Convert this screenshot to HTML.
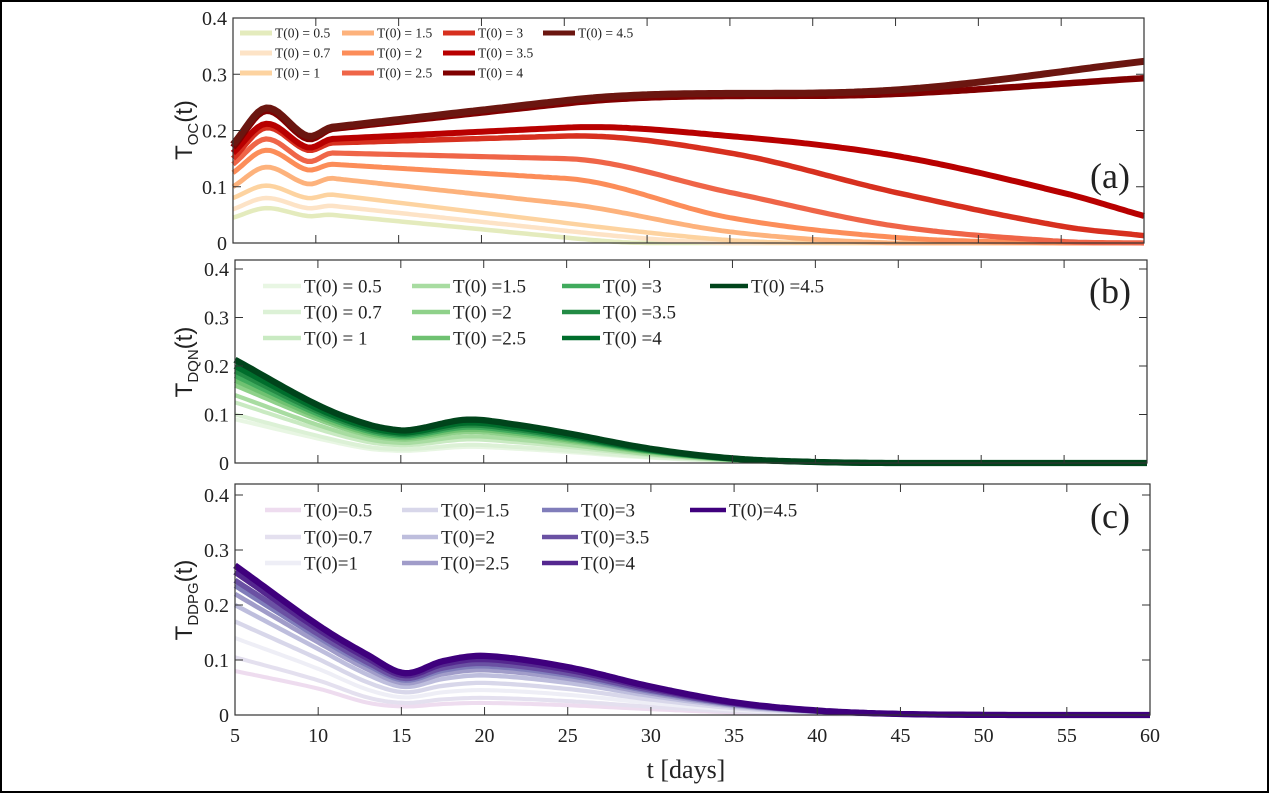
<!DOCTYPE html>
<html><head><meta charset="utf-8"><style>
html,body{margin:0;padding:0;background:#fff;}
svg{display:block;}
text{font-family:"Liberation Serif",serif;fill:#222;}
.ax{fill:none;stroke:#333;stroke-width:1.2;}
</style></head><body>
<svg id="s" width="1269" height="793" xmlns="http://www.w3.org/2000/svg">
<rect x="1" y="1" width="1267" height="791" fill="#fff" stroke="#000" stroke-width="2"/>
<g id="g"></g>
<text x="1110" y="188" font-size="36" text-anchor="middle">(a)</text>
<text x="1110" y="303" font-size="36" text-anchor="middle">(b)</text>
<text x="1110" y="528" font-size="36" text-anchor="middle">(c)</text>
<text x="686" y="778" font-size="26" text-anchor="middle">t [days]</text>
<text transform="translate(192,130) rotate(-90)" font-size="24" text-anchor="middle" style="font-family:'Liberation Sans',sans-serif">T<tspan font-size="15" dy="6">OC</tspan><tspan dy="-6">(t)</tspan></text>
<text transform="translate(192,362) rotate(-90)" font-size="24" text-anchor="middle" style="font-family:'Liberation Sans',sans-serif">T<tspan font-size="15" dy="6">DQN</tspan><tspan dy="-6">(t)</tspan></text>
<text transform="translate(192,600) rotate(-90)" font-size="24" text-anchor="middle" style="font-family:'Liberation Sans',sans-serif">T<tspan font-size="15" dy="6">DDPG</tspan><tspan dy="-6">(t)</tspan></text>
</svg>
<script>
const NS="http://www.w3.org/2000/svg";const G=document.getElementById('g');
function el(t,a,txt){const e=document.createElementNS(NS,t);for(const k in a)e.setAttribute(k,a[k]);if(txt!==undefined)e.textContent=txt;G.appendChild(e);return e;}
function interp(pts,t,lin){
 let i=0;while(i<pts.length-2&&t>pts[i+1][0])i++;
 const p0=pts[Math.max(i-1,0)],p1=pts[i],p2=pts[i+1],p3=pts[Math.min(i+2,pts.length-1)];
 const u=(t-p1[0])/(p2[0]-p1[0]);
 if(lin&&lin(p1[0]))return Math.max(0,p1[1]+u*(p2[1]-p1[1]));
 let m1=(p2[1]-p0[1])/(p2[0]-p0[0])*(p2[0]-p1[0]);
 let m2=(p3[1]-p1[1])/(p3[0]-p1[0])*(p2[0]-p1[0]);
 if(lin&&lin(p0[0])&&p0!==p1)m1=(p2[1]-p1[1])*0.0+ (p1[1]-p0[1])/(p1[0]-p0[0])*(p2[0]-p1[0]);
 const h00=2*u*u*u-3*u*u+1,h10=u*u*u-2*u*u+u,h01=-2*u*u*u+3*u*u,h11=u*u*u-u*u;
 return Math.max(0,h00*p1[1]+h10*m1+h01*p2[1]+h11*m2);}
const P=[
 {x0:233,x1:1144,y0:243,top:18,ppu:562.5,labs:[0,0.1,0.2,0.3,0.4],xl:false},
 {x0:235,x1:1147,y0:463,top:260,ppu:485,labs:[0,0.1,0.2,0.3,0.4],xl:false},
 {x0:235,x1:1150,y0:715,top:484,ppu:550,labs:[0,0.1,0.2,0.3,0.4],xl:true}];
function X(p,t){return p.x0+(t-5)/55*(p.x1-p.x0);}
function Y(p,v){return p.y0-v*p.ppu;}
function curve(p,pts,col,w,lin){let d='';for(let t=5;t<=60;t+=0.25){const v=interp(pts,t,lin);d+=(t==5?'M':'L')+X(p,t).toFixed(1)+','+Y(p,v).toFixed(1);}
 el('path',{d:d,fill:'none',stroke:col,'stroke-width':w,'stroke-linejoin':'round'});}
const A=[
[[5,.045],[7,.062],[9.5,.048],[11,.05],[25,.01],[30,0],[60,0]],
[[5,.06],[7,.08],[9.5,.062],[11,.066],[25,.022],[35,0],[60,0]],
[[5,.08],[7,.102],[9.5,.08],[11,.086],[25,.036],[35,.005],[42,0],[60,0]],
[[5,.10],[7,.135],[9.5,.105],[11,.115],[25,.07],[35,.02],[45,0],[60,0]],
[[5,.125],[7,.165],[9.5,.13],[11,.14],[25,.115],[35,.045],[45,.01],[55,0],[60,0]],
[[5,.14],[7,.185],[9.5,.145],[11,.16],[25,.15],[35,.09],[45,.03],[55,.003],[60,0]],
[[5,.15],[7,.205],[9.5,.165],[11,.178],[25,.19],[35,.16],[45,.09],[55,.03],[60,.013]],
[[5,.16],[7,.212],[9.5,.17],[11,.185],[25,.205],[35,.19],[45,.155],[55,.09],[60,.048]],
[[5,.17],[7,.235],[9.5,.185],[11,.203],[25,.248],[45,.265],[60,.293]],
[[5,.175],[7,.24],[9.5,.19],[11,.206],[25,.253],[45,.272],[60,.323]]];
const RC=['#e4ebbd','#fde3c6','#fdd3a0','#fdb27c','#fc8d59','#ef6548','#d7301f','#b80000','#800000','#6b1610'];
const GC=['#e8f6e3','#dcf1d6','#c9eac2','#a8dca1','#8fd18a','#6fc171','#41ab5d','#238b45','#006d2c','#00441b'];
const PC=['#eedcef','#e4e0ef','#eeeef6','#d8d7ea','#bebedd','#a09cc9','#807dba','#6a51a3','#54278f','#3f007d'];
const W=[4.5,4.5,4.5,4.8,5,5.2,5.5,6,6.5,7];
A.forEach((pts,i)=>curve(P[0],pts,RC[i],W[i],x=>x==11));
const Bt=[[5,1],[10,.56],[13,.375],[15,.316],[16,.33],[19,.42],[22,.37],[25,.29],[30,.14],[35,.045],[40,.01],[45,0],[60,0]];
const bs=[.09,.1,.125,.14,.16,.17,.18,.19,.2,.213];
bs.forEach((s,i)=>{const f=s/.215;curve(P[1],Bt.map(q=>[q[0],q[1]*.215*(q[0]<12?f:Math.pow(f,1.15))]),GC[i],W[i]*0.9);});
const Ct=[[5,1],[10,.6],[13,.4],[15.2,.28],[17.5,.36],[20,.395],[25,.32],[30,.19],[35,.085],[40,.03],[45,.007],[50,.001],[55,0],[60,0]];
const cs=[.08,.105,.14,.17,.2,.22,.235,.245,.26,.272];
cs.forEach((s,i)=>{const f=s/.272;curve(P[2],Ct.map(q=>[q[0],q[1]*.272*(q[0]<12?f:Math.pow(f,1.3))]),PC[i],W[i]*0.9);});
P.forEach((p,k)=>{
 el('rect',{x:p.x0,y:p.top,width:p.x1-p.x0,height:p.y0-p.top,class:'ax'});
 for(let t=5;t<=60;t+=5){const x=X(p,t);el('line',{x1:x,x2:x,y1:p.y0,y2:p.y0-8,stroke:'#333'});el('line',{x1:x,x2:x,y1:p.top,y2:p.top+8,stroke:'#333'});
  if(p.xl)el('text',{x:x,y:p.y0+27,'font-size':20,'text-anchor':'middle'},String(t));}
 p.labs.forEach(v=>{const y=Y(p,v);el('line',{x1:p.x0,x2:p.x0+8,y1:y,y2:y,stroke:'#333'});el('line',{x1:p.x1,x2:p.x1-8,y1:y,y2:y,stroke:'#333'});
  el('text',{x:p.x0-6,y:y+7,'font-size':20,'text-anchor':'end'},v==0?'0':v.toFixed(1));});
});
const La=['T(0) = 0.5','T(0) = 0.7','T(0) = 1','T(0) = 1.5','T(0) = 2','T(0) = 2.5','T(0) = 3','T(0) = 3.5','T(0) = 4','T(0) = 4.5'];
const Lb=['T(0) = 0.5','T(0) = 0.7','T(0) = 1','T(0) =1.5','T(0) =2','T(0) =2.5','T(0) =3','T(0) =3.5','T(0) =4','T(0) =4.5'];
const Lc=['T(0)=0.5','T(0)=0.7','T(0)=1','T(0)=1.5','T(0)=2','T(0)=2.5','T(0)=3','T(0)=3.5','T(0)=4','T(0)=4.5'];
function leg(L,C,cols,rows,len,fs,lw){L.forEach((s,i)=>{const c=Math.floor(i/3),r=i%3;const x=cols[c],y=rows[i==9?0:r];
 el('line',{x1:x,x2:x+len,y1:y,y2:y,stroke:C[i],'stroke-width':lw});el('text',{x:x+len+3,y:y+fs*0.35,'font-size':fs},s);});}
leg(La,RC,[240,342,443,543],[33,53,73],32,13.5,5);
leg(Lb,GC,[263,412,562,710],[286,312,338],38,19,4.5);
leg(Lc,PC,[265,402,542,690],[510,537,563],36,19,4.5);
</script>
</body></html>
